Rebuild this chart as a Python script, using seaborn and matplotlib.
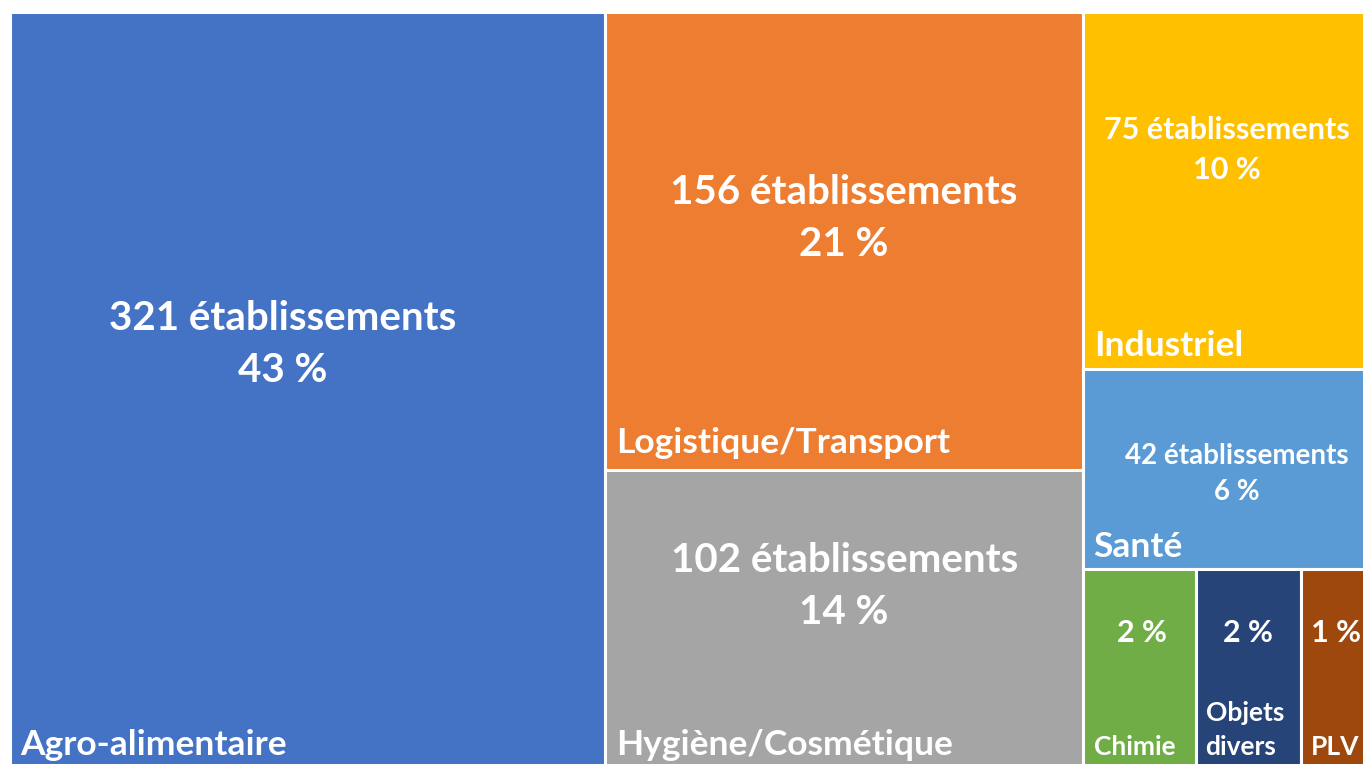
import matplotlib
matplotlib.use("Agg")
import matplotlib.pyplot as plt
from matplotlib.patches import Rectangle
import seaborn as sns

categories = ["Agro-alimentaire", "Logistique/Transport", "Hygiène/Cosmétique",
              "Industriel", "Santé", "Chimie", "Objets\ndivers", "PLV"]
counts = [321, 156, 102, 75, 42, 16, 15, 11]
colors = ["#4472C4", "#ED7D31", "#A5A5A5", "#FFC000",
          "#5B9BD5", "#70AD47", "#264478", "#9E480E"]

# Nested slice-and-dice grouping: columns -> rows -> columns
groups = [[0], [1, 2], [3, 4, [5, 6, 7]]]

sns.set_theme(style="white")
plt.rcParams["font.family"] = ["Lato", "DejaVu Sans"]

W, H = 1368.0, 757.0  # drawing area in pixel-like units


def node_total(node):
    if isinstance(node, int):
        return counts[node]
    return sum(node_total(n) for n in node)


def layout(node, x, y, w, h, split_x, out):
    if isinstance(node, int):
        out[node] = (x, y, w, h)
        return
    s = node_total(node)
    pos = 0.0
    for child in node:
        f = node_total(child) / s
        if split_x:
            layout(child, x + pos * w, y, f * w, h, not split_x, out)
        else:
            layout(child, x, y + pos * h, w, f * h, not split_x, out)
        pos += f


rects = {}
layout(groups, 0.0, 0.0, W, H, True, rects)
grand_total = sum(counts)

# label styling per tile
value_size = [29, 29, 29, 22, 20, 22, 22, 22]
value_spacing = [1.5, 1.5, 1.5, 1.5, 1.5, 1.2, 1.2, 1.2]
name_size = [25.5, 25.5, 25.5, 25.5, 25.5, 19, 19, 19]
show_count = [True, True, True, True, True, False, False, False]
value_dy = [332, 206, 117, 138, 105, 64, 64, 64]
value_dx = [-25, 0, 0, -4, 6, 3, 0, -3]
name_pad_left = [10, 11, 11, 11, 10, 11, 10, 10]
name_pad_bottom = [14, 17, 14, 13, 12, 14, 14, 14]

fig = plt.figure(figsize=(13.63, 7.64), dpi=100)
fig.patch.set_facecolor("white")
ax = fig.add_axes([10 / 1363, (764 - 12 - H) / 764, W / 1363, H / 764])
ax.set_xlim(0, W)
ax.set_ylim(H, 0)
ax.axis("off")

for i, name in enumerate(categories):
    x, y, w, h = rects[i]
    ax.add_patch(Rectangle((x, y), w, h, facecolor=colors[i],
                           edgecolor="white", linewidth=2.2))
    pct = round(counts[i] / grand_total * 100)
    if show_count[i]:
        txt = f"{counts[i]} établissements\n{pct} %"
    else:
        txt = f"{pct} %"
    ax.text(x + w / 2 + value_dx[i], y + value_dy[i], txt,
            ha="center", va="center", color="white", fontweight="bold",
            fontsize=value_size[i], linespacing=value_spacing[i])
    ax.text(x + name_pad_left[i], y + h - name_pad_bottom[i], name,
            ha="left", va="baseline", color="white", fontweight="bold",
            fontsize=name_size[i], linespacing=1.5)

fig.savefig("out.png", dpi=100, facecolor="white")
